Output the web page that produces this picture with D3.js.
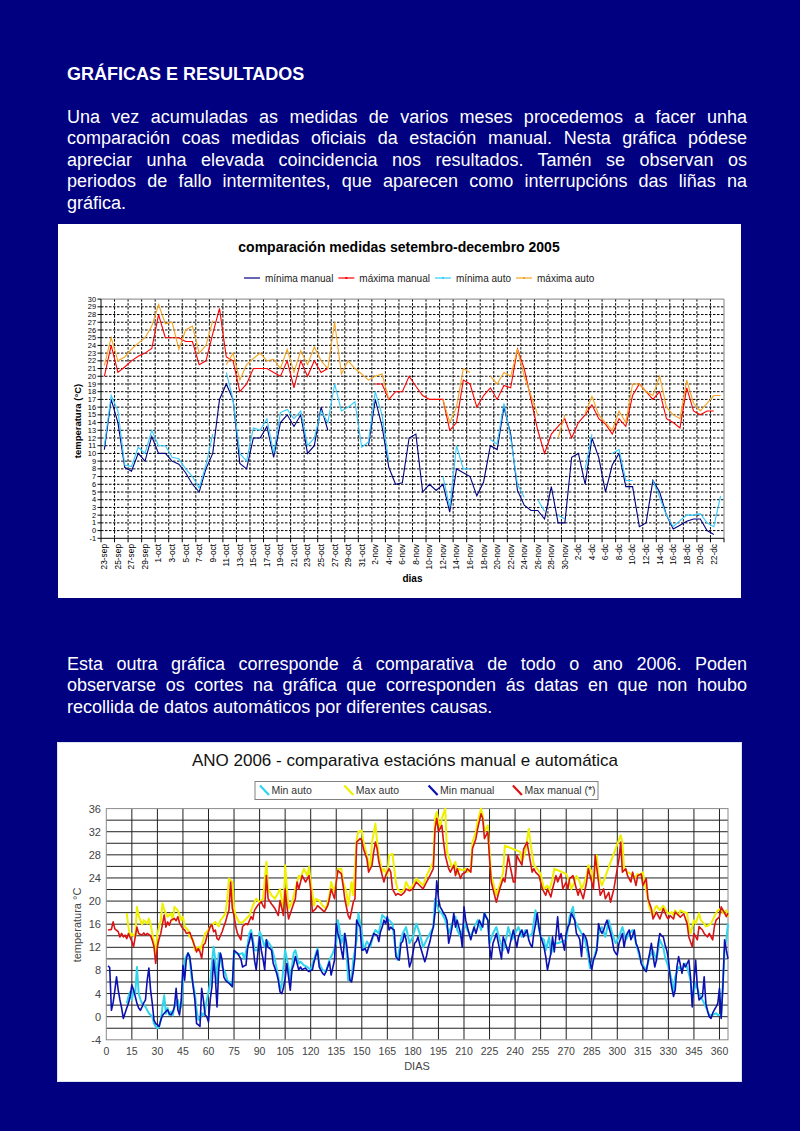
<!DOCTYPE html>
<html>
<head>
<meta charset="utf-8">
<script src="https://cdnjs.cloudflare.com/ajax/libs/d3/7.8.5/d3.min.js"></script>
<style>
  html, body { margin: 0; padding: 0; background: #000080; }
  body { width: 800px; height: 1131px; position: relative; overflow: hidden;
         font-family: "Liberation Sans", Arial, Helvetica, sans-serif; }
  #page { position: absolute; left: 0; top: 0; }
  .line { position: absolute; left: 67px; width: 680px; color: #fff; font-size: 18px;
          line-height: 18px; text-align: justify; text-align-last: justify; white-space: nowrap; }
  .line.last { text-align-last: left; }
  .head { position: absolute; left: 67px; color: #fff; font-size: 18px; line-height: 18px;
          font-weight: bold; white-space: nowrap; }
</style>
</head>
<body>
<svg id="page" width="800" height="1131"></svg>
<script>
// ---- texto da paxina ----
var heading = 'GRÁFICAS E RESULTADOS';
var para1 = [
  'Una vez acumuladas as medidas de varios meses procedemos a facer unha',
  'comparación coas medidas oficiais da estación manual. Nesta gráfica pódese',
  'apreciar unha elevada coincidencia nos resultados. Tamén se observan os',
  'periodos de fallo intermitentes, que aparecen como interrupcións das liñas na',
  'gráfica.'
];
var para2 = [
  'Esta outra gráfica corresponde á comparativa de todo o ano 2006. Poden',
  'observarse os cortes na gráfica que corresponden ás datas en que non houbo',
  'recollida de datos automáticos por diferentes causas.'
];

// ---- grafica 1: setembro-decembro 2005 ----
var dias2005 = [
  '23-sep','24-sep','25-sep','26-sep','27-sep','28-sep','29-sep','30-sep',
  '1-oct','2-oct','3-oct','4-oct','5-oct','6-oct','7-oct','8-oct','9-oct','10-oct',
  '11-oct','12-oct','13-oct','14-oct','15-oct','16-oct','17-oct','18-oct','19-oct','20-oct',
  '21-oct','22-oct','23-oct','24-oct','25-oct','26-oct','27-oct','28-oct','29-oct','30-oct','31-oct',
  '1-nov','2-nov','3-nov','4-nov','5-nov','6-nov','7-nov','8-nov','9-nov','10-nov',
  '11-nov','12-nov','13-nov','14-nov','15-nov','16-nov','17-nov','18-nov','19-nov','20-nov',
  '21-nov','22-nov','23-nov','24-nov','25-nov','26-nov','27-nov','28-nov','29-nov','30-nov',
  '1-dc','2-dc','3-dc','4-dc','5-dc','6-dc','7-dc','8-dc','9-dc','10-dc',
  '11-dc','12-dc','13-dc','14-dc','15-dc','16-dc','17-dc','18-dc','19-dc','20-dc',
  '21-dc','22-dc','23-dc'
];
var minManual2005 = [10.5,17,14,8.2,7.7,10,9,12.2,10,10, 9,8.6,7.5,6,5,8,10,17,19,17,
  8.7,8,12,12,13.5,9.5,14,15,13.5,15, 10,11,16,13,null,null,null,null,null,11,
  17,13.5,8.2,6,6.2,12,12.5,5,6,5.2, 6,2.4,8,7.5,7,4.5,6.3,11,10.5,16,
  12.5,5.2,3.3,2.6,2.6,1.5,5.7,1,1,9.5, 10,6,12,9.5,5,8.5,10,5.7,5.7,0.5,
  1,6.5,5,2,0.2,0.7,1.2,1.5,1.5,0, -0.5,null];
var maxManual2005 = [20,24,20.5,21.2,22,22.6,23,23.6,28,25, 25,25,24.5,24.5,21.5,22,25.5,28.8,22.5,22,
  18,19,21,21,21,20.5,20,22,18.5,22, 20,22,20.5,21,null,null,null,null,null,null,
  19,19,17,18,18,20,18.7,17.5,17,17, 17,13,14,19.5,19,16,17.5,18.5,17,18.8,
  18.5,23.5,21,17,13,10,12.5,13.5,14.5,12, 14,15,16.3,14.5,13.8,12.5,14.5,13.5,17.5,19,
  18,17,18,14.5,14,13.3,18.5,15.5,15,15.5, 15.5,null];
var minAuto2005 = [11,17.5,15.5,8.5,8.3,10.8,10,13,11,11, 9.5,9.3,8,7,5.5,8.5,12.5,null,20.5,17,
  10,9,13.3,13,14.5,10,15.3,15.7,14.5,15.5, 11,12,15.5,14,19,15.5,16,16.7,10.8,11.5,
  18,15,9,null,null,null,null,null,null,null, 7,3,11,8,8,null,null,11.8,11.2,16.5,
  12,6,4.3,null,4,2.5,null,2,1.5,null, null,8,12.5,null,null,10,10.5,6.5,6.5,null,
  null,6.5,4.3,2,0.5,1.3,2,2,2.2,1, 0.5,4.5];
var maxAuto2005 = [21.4,25,22,22.5,23.5,24.3,25,26.5,29.3,26.8, 27,23.5,26,26.5,23,24,27.2,null,21.5,23,
  19.5,21.5,22.3,23,22,22.2,21,23.5,20.5,23.3, 21.5,23.8,22,21,27,20.3,22,21,20.3,19.5,
  20,20.3,17,null,null,null,null,null,null,null, 17,14,16,21,20.5,null,null,20,19,20.5,
  20,23.5,20,17.5,15,null,null,12,15,null, null,15.2,17.4,15,14,13,15.5,14,19,19,
  18,17.5,20,16,15,14.5,19.5,16.5,15.5,16.5, 17.5,17.5];
var yTicks2005 = d3.range(-1, 31);
var legend2005 = ['mínima manual', 'máxima manual', 'mínima auto', 'máxima auto'];

// ---- grafica 2: ano 2006 (dia, temperatura) ----
var minManual06 = [[1,8.8],[2,8.5],[3,1.1],[4,2.4],[5,4.5],[6,6.9],[7,4.6],[8,2.9],[9,1.5],[10,-0.3],[11,0.6],[12,1.5],[13,2.3],[14,3.5],[15,5.5],[16,4.6],[17,3.5],[18,2.3],[19,1.5],[20,1.1],[21,1.7],[22,2.4],[23,2.9],[24,6.3],[25,8.4],[26,4.6],[27,2.3],[28,-0.6],[29,-1.2],[30,-1.4],[31,-1.7],[32,-0.6],[33,0.2],[34,0.6],[35,0.9],[36,1.2],[37,0.5],[38,0.3],[39,0.8],[40,1.7],[41,4.9],[42,1.2],[43,0.3],[44,2.9],[45,8.9],[46,6.3],[47,10],[48,11],[49,10.4],[50,8],[51,5.2],[52,2.9],[53,-1.2],[54,-1.4],[55,-1.7],[56,4.9],[57,2.9],[58,0.3],[59,0],[60,-0.9],[61,2.9],[62,5.2],[63,9.8],[64,6.9],[65,1.7],[66,8.1],[67,11],[68,9.8],[69,6.9],[70,6.3],[71,6],[72,5.8],[73,5.5],[74,5.2],[75,11.5],[76,11.2],[77,11],[78,10.5],[79,10],[80,8.6],[81,8.8],[82,8.9],[83,12],[84,13],[85,14.4],[86,12.7],[87,9.8],[88,8.1],[89,11],[90,13.8],[91,11.5],[92,10],[93,8.1],[94,13.3],[95,12],[96,11.8],[97,11.5],[98,9.2],[99,8.4],[100,7.5],[101,6.3],[102,4.3],[103,4],[104,5],[105,6.6],[106,9.2],[107,6.9],[108,4.6],[109,8.1],[110,9],[111,10.4],[112,9.2],[113,8.1],[114,8.6],[115,8.1],[116,8.3],[117,8.4],[118,8],[119,7.8],[120,8],[121,8.1],[122,9.5],[123,10.5],[124,11.5],[125,8.6],[126,8],[127,7.5],[128,7.2],[129,7.8],[130,8.6],[131,9.5],[132,7.2],[133,8.5],[134,9.8],[135,16.1],[136,14.4],[137,13.3],[138,11.5],[139,10],[140,14.4],[141,12.7],[142,9.8],[143,6.3],[144,6],[145,7.8],[146,10.4],[147,16.7],[148,16],[149,15.5],[150,11.5],[151,11.6],[152,11.8],[153,11],[154,12],[155,12.7],[156,13.5],[157,14.4],[158,14.2],[159,14.1],[160,13],[161,14.7],[162,15.5],[163,16.7],[164,16.1],[165,17.3],[166,15],[167,15.5],[168,15.2],[169,15],[170,10.4],[171,10],[172,9.8],[173,12.7],[174,13],[175,14.4],[176,13.3],[177,11],[178,8.6],[179,9.5],[180,11],[181,12.7],[182,13],[183,13.8],[184,12.5],[185,11.5],[186,10.5],[187,9.5],[188,10.5],[189,12],[190,13],[191,14.4],[192,15.5],[193,18],[194,23.5],[195,20.5],[196,19],[197,18.5],[198,17.9],[199,17.5],[200,16.7],[201,12.7],[202,14],[203,15.5],[204,17.9],[205,15.5],[206,16.7],[207,15.5],[208,14.4],[209,12],[210,19],[211,16.7],[212,15.5],[213,14.4],[214,13.3],[215,14.5],[216,15.5],[217,14.4],[218,15.5],[219,16.7],[220,16],[221,15.5],[222,17.9],[223,17.2],[224,16.7],[225,12],[226,10],[227,12.7],[228,13.5],[229,14.4],[230,13],[231,11.5],[232,10],[233,13.8],[234,13],[235,12],[236,11],[237,12.5],[238,13.8],[239,15],[240,13.5],[241,12],[242,13.8],[243,14.5],[244,15],[245,13.8],[246,14.5],[247,15],[248,13.3],[249,12.5],[250,12],[251,14.4],[252,16],[253,17.9],[254,15.5],[255,13.8],[256,13],[257,12],[258,10.4],[259,8.1],[260,9.5],[261,11],[262,13.8],[263,11.2],[264,14],[265,17.3],[266,13.3],[267,14.4],[268,13],[269,11.5],[270,14.4],[271,15.5],[272,16.1],[273,17.9],[274,17.3],[275,16.7],[276,14.4],[277,14],[278,13.3],[279,10.4],[280,14.4],[281,14],[282,13.3],[283,11.5],[284,9.5],[285,8.1],[286,9.8],[287,10.5],[288,11.5],[289,16.1],[290,15],[291,14.4],[292,15],[293,16],[294,16.7],[295,15.5],[296,14.5],[297,13.3],[298,11.5],[299,11],[300,10.7],[301,12.7],[302,13.5],[303,14.4],[304,12],[305,13.8],[306,14.5],[307,15],[308,13.3],[309,14],[310,15],[311,12.7],[312,12],[313,11],[314,9.2],[315,8.6],[316,8.1],[317,7.8],[318,9.5],[319,11],[320,12.7],[321,10.5],[322,8.6],[323,9.8],[324,12.7],[325,14.4],[326,14],[327,13.8],[328,12.5],[329,11.5],[330,10],[331,6.9],[332,5],[333,3.5],[334,4.6],[335,8.6],[336,10.4],[337,9],[338,7.5],[339,9.2],[340,8.6],[341,9.2],[342,9.8],[343,6.9],[344,1.7],[345,6],[346,9.8],[347,5.2],[348,2.9],[349,3.2],[350,3.5],[351,6.9],[352,2.3],[353,1],[354,0],[355,-0.3],[356,0.6],[357,1.2],[358,1.7],[359,2.3],[360,4.9],[361,-0.3],[362,5.2],[363,13.3],[364,11.5],[365,10]];
var minAuto06 = [[12,2.3],[13,3.5],[14,4.3],[15,2.9],[16,4.6],[17,4],[18,8.6],[19,4],[20,3],[21,2.3],[23,1.7],[25,0.6],[27,0],[28,-1.2],[29,-1.7],[30,-2],[31,-1.7],[32,-0.6],[33,1.7],[34,3.7],[35,0.5],[36,1.5],[37,0.3],[38,0.9],[39,0.2],[40,1.7],[42,2.9],[43,1.2],[44,1.8],[45,6],[46,9.8],[47,10.5],[48,11],[49,10],[50,6.9],[52,4],[53,1.2],[54,-0.5],[55,-0.6],[56,0.6],[57,0.2],[58,1],[59,2.9],[61,5.8],[62,9.2],[63,12.1],[64,9.8],[65,5.8],[66,11],[67,10.8],[68,8.6],[70,7.5],[71,6.3],[73,5.8],[74,5.2],[75,11.5],[76,11],[78,10.8],[80,11],[81,10],[83,12.5],[84,14.4],[85,15],[86,13.5],[87,11.5],[89,11.5],[90,14.7],[91,14],[93,12],[94,13.3],[96,12.5],[97,12],[99,9.8],[101,6.9],[102,4.6],[103,5.5],[105,11.5],[107,8.6],[108,6.3],[110,11],[111,11.5],[113,9.2],[114,9.5],[116,8.9],[118,8.6],[120,8.1],[122,10],[124,11.8],[125,9.2],[127,8.1],[129,7.8],[131,9.8],[133,11],[135,12.7],[136,16.7],[137,15],[138,12.7],[140,14.4],[141,11.5],[142,6.3],[144,6.6],[145,9.8],[147,13.3],[148,17.9],[150,14.4],[151,11.5],[153,13],[155,12.1],[157,14.4],[158,15],[160,14.4],[162,17.6],[164,17],[166,16.7],[168,16.1],[170,11],[171,9.8],[173,13.3],[174,14.4],[176,15.5],[178,12.7],[180,13.8],[182,16.1],[184,14.4],[186,12],[188,13.3],[190,14.4],[192,15.5],[193,20.4],[195,18.4],[197,17.9],[199,16.7],[201,14.4],[203,16.1],[205,17.3],[206,15],[208,13.8],[210,16.1],[212,15],[214,13.8],[216,15.5],[218,16.7],[220,15],[222,17.9],[224,16.7],[225,12.7],[227,14.4],[229,15.5],[231,13.3],[233,11.5],[235,13.8],[236,15.5],[238,13.3],[240,14.4],[242,15.5],[244,13.8],[246,15],[248,13.8],[250,14.4],[252,18.4],[253,16.7],[255,13.8],[257,13.3],[258,11.5],[260,13.8],[261,10.8],[263,12.7],[265,12.7],[270,13.3],[272,17.3],[274,19],[275,16.7],[277,15.5],[279,14.4],[281,13.3],[283,10.4],[284,8.4],[286,9.8],[288,12],[289,14.4],[291,15.5],[293,13.8],[295,16.7],[297,14.4],[299,12.7],[301,13.8],[303,15.5],[305,13.3],[307,14.4],[309,15],[311,12.7],[313,10.4],[315,8.9],[317,8.1],[319,10.4],[321,11.5],[323,9.8],[325,13.3],[327,12],[328,10.4],[330,8.6],[332,6.3],[333,4],[334,6.9],[336,8.6],[338,8.1],[340,9.2],[341,8.6],[343,6.3],[344,2.9],[346,5.8],[348,4],[350,2.9],[352,1.7],[354,0.3],[356,0.3],[358,0.6],[359,0.3],[361,0.3],[363,11.5],[364,13.3],[365,16.1]];
var maxManual06 = [[1,15],[3,15.1],[4,16.4],[5,15.2],[7,14.7],[8,13.8],[9,14.4],[10,13.8],[11,14.1],[12,13.5],[13,14.4],[15,13],[16,12.1],[17,13.8],[18,15.5],[19,14.4],[21,14.1],[22,14.5],[23,14.1],[24,14.4],[26,14],[27,13.2],[28,12.1],[29,9.2],[30,12.1],[31,13.5],[32,14.4],[34,17.6],[35,15.5],[36,16.4],[37,15.8],[38,16.7],[40,17],[41,16.6],[42,17.3],[43,16.2],[45,15.2],[46,15],[47,14.4],[49,14.6],[50,13.8],[52,12.1],[53,11.2],[54,11.8],[55,11.2],[56,10.1],[57,12.4],[58,12.7],[59,13.8],[61,15.6],[62,15.9],[63,14.7],[64,15],[65,13.5],[66,13.3],[68,14.7],[69,15.6],[70,16.4],[71,17.5],[72,18.4],[73,23.3],[74,18.7],[75,17.5],[76,15.6],[77,14.4],[79,13.3],[80,15.6],[82,16.1],[83,15.9],[85,17.3],[86,16.8],[87,18.4],[89,19.3],[91,19.9],[92,19.2],[93,18.8],[94,24.4],[95,20.4],[97,19.5],[99,18.7],[101,17.5],[102,20.1],[104,17.5],[105,22.1],[106,19.2],[107,16.9],[109,18.7],[111,20.4],[112,23.3],[113,22.1],[115,24.4],[117,23.3],[119,24.4],[120,22],[121,18.1],[123,18.7],[124,19.2],[126,18.7],[128,18.1],[130,19.2],[131,20.4],[132,22.1],[134,20.4],[135,23.3],[136,25.3],[138,24.7],[139,22.7],[140,20.4],[142,17.5],[143,16.9],[145,19.8],[146,20.4],[147,30.2],[149,30.8],[150,30.5],[151,29],[153,27.3],[154,25],[156,26.2],[157,28.5],[158,30.2],[159,29],[160,26.8],[162,24.4],[163,23.3],[164,24.4],[166,25.6],[167,25],[168,22.1],[170,21],[171,21.3],[173,21],[175,21.5],[176,22.1],[178,21.8],[180,22.1],[182,23.3],[184,22.7],[186,22.1],[188,23.3],[190,24.4],[192,25.6],[193,32.5],[194,34.3],[195,32],[197,33.1],[198,30.2],[199,27.9],[201,25.6],[202,25],[204,26.2],[205,24.4],[206,25.6],[208,23.9],[209,24.7],[211,25],[212,25.6],[214,25],[215,29.1],[217,30.8],[218,32.5],[220,35.1],[221,34.3],[222,30.8],[224,32],[225,27.3],[226,23.3],[227,22.1],[229,19.8],[230,21],[231,22.1],[233,23.9],[234,23.3],[236,27.9],[237,26.2],[239,23.3],[240,23.3],[241,27.9],[242,27.3],[244,26.2],[245,29],[247,30.2],[248,28.5],[250,25],[251,25.6],[252,25],[254,24.4],[256,22.1],[258,21],[259,22.1],[261,20.7],[262,22.1],[264,24.4],[265,23.3],[267,24.7],[268,22.1],[270,23.3],[271,22.1],[272,23.9],[274,24.4],[276,22.1],[277,21],[278,22.1],[280,20.4],[282,23.3],[283,25.6],[284,24.4],[286,22.1],[287,27.9],[289,23.3],[290,21],[292,22.1],[293,20.4],[295,21.5],[296,19.8],[298,22.1],[299,23.9],[301,27.3],[302,30.2],[303,25],[305,25.6],[306,24.4],[308,23.3],[309,25],[311,22.7],[312,24.4],[314,24.7],[315,22.7],[317,23.9],[318,20.4],[320,18.7],[321,16.9],[323,18.1],[324,17.5],[325,16.9],[327,18.7],[329,17.3],[330,16.9],[331,17.5],[333,16.9],[334,18.1],[336,17.5],[337,17.2],[339,17.8],[341,16.1],[342,13.8],[344,12.1],[345,14.4],[347,13.3],[348,15.6],[350,15],[351,14.4],[353,13.8],[354,14.4],[356,13.3],[357,15.6],[358,16.7],[360,17.3],[361,19],[363,17.9],[364,17.3],[365,17.9]];
var maxAuto06 = [[12,17.9],[13,15.5],[14,13.8],[15,14.4],[17,13.8],[18,19],[19,17.5],[20,16.7],[21,15.9],[22,16.7],[24,16.1],[25,17],[26,16],[27,14.4],[28,12.7],[29,11],[30,14.4],[32,16.7],[33,19.6],[34,18.5],[35,17.9],[36,17.3],[38,17.9],[39,16.7],[40,19],[42,18.4],[44,16.7],[45,17.3],[46,15.6],[48,15],[49,13.8],[51,13.3],[52,11.5],[54,12.1],[55,11.5],[57,13.3],[58,14.4],[60,15],[61,15.6],[63,16.1],[64,16.4],[66,15.6],[67,16.7],[68,17],[70,17.9],[71,20.2],[72,23.9],[74,23.3],[75,18.7],[76,17.5],[78,16.3],[80,16.3],[82,16.9],[84,17.5],[86,19.2],[88,20.4],[90,19.8],[92,20.4],[94,26.8],[95,22.1],[97,21],[99,20.4],[101,21.5],[102,22.1],[104,18.1],[105,26.2],[107,18.7],[109,19.8],[111,22.1],[113,24.4],[114,23.9],[116,25.6],[118,24.4],[119,25.9],[120,23.3],[122,19.2],[123,20.4],[125,20.1],[127,19.2],[129,18.7],[131,21],[132,23.3],[134,21.5],[136,25.6],[138,25.6],[139,23.3],[141,21.5],[142,19.2],[144,23.3],[145,21],[147,30.8],[148,32],[150,32.2],[151,30.2],[153,27.9],[155,25.6],[156,30.2],[158,33.4],[159,30.2],[160,27.9],[162,25],[163,25.6],[165,24.4],[166,27.9],[168,28.2],[170,23.3],[171,22.1],[173,21.5],[175,22.1],[176,23.3],[178,22.1],[180,22.7],[182,23.9],[184,23.3],[186,22.7],[188,24.4],[190,25.6],[192,26.8],[193,34.3],[194,35.4],[196,32.5],[197,34.3],[199,36],[200,28.5],[202,26.8],[203,25.6],[205,26.8],[206,24.7],[207,25.6],[209,25.3],[211,25.6],[212,25],[214,25.6],[215,30.2],[217,32],[218,33.7],[220,36],[221,34.8],[222,32],[224,33.1],[225,28.5],[226,24.4],[227,23.3],[229,21],[230,22.1],[231,22.7],[233,25],[234,29.6],[243,28.5],[244,26.8],[246,28.5],[248,32.5],[249,30.2],[251,26.2],[253,25.6],[255,24.7],[256,23.3],[257,22.1],[259,22.7],[260,21.8],[262,23.9],[263,25.6],[270,24.7],[272,23.3],[273,22.1],[275,23.3],[276,24.4],[278,23.3],[279,22.1],[280,22.7],[282,24.4],[283,26.2],[285,25],[286,23.3],[288,27.9],[289,24.4],[291,22.7],[302,31.4],[303,30.2],[304,25.6],[306,25],[307,24.9],[309,24.4],[310,23.9],[312,24.7],[313,24.4],[315,25],[316,23.3],[318,20.4],[319,18.7],[321,17.5],[322,18.7],[323,19.2],[325,18.4],[327,19.2],[328,18.7],[330,17.8],[332,18.1],[333,17.5],[334,18.4],[336,17.5],[337,18.4],[339,18.1],[341,17.9],[342,15.6],[343,14.4],[345,16.7],[346,16.1],[348,17.9],[349,16.7],[351,16.1],[352,15.6],[354,15.9],[355,16.1],[356,16.7],[358,17.9],[359,18.4],[361,18.7],[362,17.9],[364,18.4],[365,17.3]];
var xTicks06 = d3.range(0, 361, 15);
var yTicks06 = [-4, 0, 4, 8, 12, 16, 20, 24, 28, 32, 36];
var legend06 = ['Min auto', 'Max auto', 'Min manual', 'Max manual (*)'];

var FONT = '"Liberation Sans", Arial, Helvetica, sans-serif';
var svg = d3.select('#page');

// ---------- textos ----------
d3.select('body').append('div').attr('class', 'head')
  .style('top', (80 - 15.2) + 'px').text(heading);

function drawPara(lines, base) {
  lines.forEach(function(t, k) {
    d3.select('body').append('div')
      .attr('class', k === lines.length - 1 ? 'line last' : 'line')
      .style('top', (base + k * 21.5 - 15.2) + 'px')
      .text(t);
  });
}
drawPara(para1, 123);
drawPara(para2, 670);

// ---------- grafica 1 ----------
var g1 = svg.append('g').attr('font-family', FONT);
g1.append('rect').attr('x', 58).attr('y', 224).attr('width', 683).attr('height', 374).attr('fill', '#fff');

var x1 = d3.scaleBand().domain(d3.range(dias2005.length)).range([101, 724]);
var y1 = d3.scaleLinear().domain([-1, 30]).range([538.3, 299.1]);
var cx1 = function(i) { return x1(i) + x1.bandwidth() / 2; };

// reixa
g1.selectAll('.hg').data(yTicks2005.filter(function(v) { return v > -1 && v < 30; }))
  .join('line')
  .attr('x1', 101).attr('x2', 724)
  .attr('y1', function(d) { return y1(d); }).attr('y2', function(d) { return y1(d); })
  .attr('stroke', '#000').attr('stroke-dasharray', '2.5,1.5');
var vIdx = d3.range(2, dias2005.length, 2);
g1.selectAll('.vg').data(vIdx)
  .join('line')
  .attr('x1', function(d) { return x1(d); }).attr('x2', function(d) { return x1(d); })
  .attr('y1', y1(30)).attr('y2', y1(-1))
  .attr('stroke', '#000').attr('stroke-dasharray', '2.5,1.5');

// bordo e eixos
g1.append('path').attr('d', 'M101,' + y1(30) + 'H724V' + y1(-1))
  .attr('fill', 'none').attr('stroke', '#808080');
g1.append('line').attr('x1', 101).attr('x2', 101).attr('y1', y1(30)).attr('y2', y1(-1)).attr('stroke', '#000');
g1.append('line').attr('x1', 101).attr('x2', 724).attr('y1', y1(-1)).attr('y2', y1(-1)).attr('stroke', '#000');
g1.selectAll('.yt').data(yTicks2005).join('line')
  .attr('x1', 97.5).attr('x2', 101)
  .attr('y1', function(d) { return y1(d); }).attr('y2', function(d) { return y1(d); })
  .attr('stroke', '#000');
g1.selectAll('.xt').data(d3.range(0, dias2005.length + 1, 2)).join('line')
  .attr('x1', function(d) { return d < dias2005.length ? x1(d) : 724; })
  .attr('x2', function(d) { return d < dias2005.length ? x1(d) : 724; })
  .attr('y1', y1(-1)).attr('y2', y1(-1) + 4)
  .attr('stroke', '#000');

g1.selectAll('.yl').data(yTicks2005).join('text')
  .attr('x', 96).attr('y', function(d) { return y1(d); }).attr('dy', '0.35em')
  .attr('text-anchor', 'end').attr('font-size', 7.4).attr('fill', '#000')
  .text(function(d) { return d; });

g1.selectAll('.xl').data(d3.range(0, dias2005.length, 2)).join('text')
  .attr('transform', function(d) { return 'translate(' + cx1(d) + ',544) rotate(-90)'; })
  .attr('dy', '0.35em').attr('text-anchor', 'end').attr('font-size', 8.3).attr('fill', '#000')
  .text(function(d) { return dias2005[d]; });

g1.append('text').attr('x', 399).attr('y', 252).attr('text-anchor', 'middle')
  .attr('font-size', 14).attr('font-weight', 'bold').text('comparación medidas setembro-decembro 2005');
g1.append('text').attr('x', 412.5).attr('y', 582).attr('text-anchor', 'middle')
  .attr('font-size', 10).attr('font-weight', 'bold').text('dias');
g1.append('text').attr('transform', 'translate(81,421) rotate(-90)').attr('text-anchor', 'middle')
  .attr('font-size', 9.5).attr('font-weight', 'bold').text('temperatura (°C)');

// series
var cores2005 = ['#000080', '#ff0000', '#33ccff', '#f5a623'];
var series2005 = [minManual2005, maxManual2005, minAuto2005, maxAuto2005];
var line1 = d3.line()
  .defined(function(d) { return d != null; })
  .x(function(d, i) { return cx1(i); })
  .y(function(d) { return y1(d); });
series2005.forEach(function(s, k) {
  g1.append('path').datum(s).attr('d', line1)
    .attr('fill', 'none').attr('stroke', cores2005[k]).attr('stroke-width', 1.1);
});

// lenda
var lx = 244;
legend2005.forEach(function(name, k) {
  g1.append('line').attr('x1', lx).attr('x2', lx + 16).attr('y1', 278).attr('y2', 278)
    .attr('stroke', cores2005[k]).attr('stroke-width', 1.2);
  if (k > 0) {
    g1.append('rect').attr('x', lx + 7).attr('y', 277).attr('width', 2).attr('height', 2).attr('fill', cores2005[k]);
  }
  var t = g1.append('text').attr('x', lx + 21).attr('y', 281.5).attr('font-size', 10)
    .attr('fill', '#222').text(name);
  lx += 21 + t.node().getComputedTextLength() + 5;
});

// ---------- grafica 2 ----------
var g2 = svg.append('g').attr('font-family', FONT);
g2.append('rect').attr('x', 57.5).attr('y', 742.5).attr('width', 684).attr('height', 339)
  .attr('fill', '#fff').attr('stroke', '#d8e4f0');

var x2 = d3.scaleLinear().domain([0, 365]).range([106.3, 728]);
var y2 = d3.scaleLinear().domain([-4, 36]).range([1039.8, 808.6]);

g2.selectAll('.hg').data(d3.range(-2, 36, 2)).join('line')
  .attr('x1', x2(0)).attr('x2', x2(365))
  .attr('y1', function(d) { return y2(d); }).attr('y2', function(d) { return y2(d); })
  .attr('stroke', '#222').attr('stroke-width', 1);
g2.selectAll('.vg').data(xTicks06.filter(function(d) { return d > 0; })).join('line')
  .attr('x1', function(d) { return x2(d); }).attr('x2', function(d) { return x2(d); })
  .attr('y1', y2(36)).attr('y2', y2(-4))
  .attr('stroke', '#222').attr('stroke-width', 1);
g2.append('rect').attr('x', x2(0)).attr('y', y2(36)).attr('width', x2(365) - x2(0)).attr('height', y2(-4) - y2(36))
  .attr('fill', 'none').attr('stroke', '#8a8a8a');

g2.selectAll('.yl').data(yTicks06).join('text')
  .attr('x', 101).attr('y', function(d) { return y2(d); }).attr('dy', '0.36em')
  .attr('text-anchor', 'end').attr('font-size', 11).attr('fill', '#444')
  .text(function(d) { return d; });
g2.selectAll('.xl').data(xTicks06).join('text')
  .attr('x', function(d) { return x2(d); }).attr('y', 1055)
  .attr('text-anchor', 'middle').attr('font-size', 10.5).attr('fill', '#444')
  .text(function(d) { return d; });

g2.append('text').attr('x', 405).attr('y', 766).attr('text-anchor', 'middle')
  .attr('font-size', 17).attr('fill', '#111').text('ANO 2006 - comparativa estacións manual e automática');
g2.append('text').attr('x', 417).attr('y', 1070).attr('text-anchor', 'middle')
  .attr('font-size', 11).attr('fill', '#444').text('DIAS');
g2.append('text').attr('transform', 'translate(81,925) rotate(-90)').attr('text-anchor', 'middle')
  .attr('font-size', 11).attr('fill', '#444').text('temperatura °C');

var cores06 = ['#30d4ec', '#eef000', '#0c10b0', '#d81414'];
var anchos06 = [2, 2, 1.6, 1.6];
var series06 = [minAuto06, maxAuto06, minManual06, maxManual06];
var line2 = d3.line()
  .x(function(d) { return x2(d[0]); })
  .y(function(d) { return y2(d[1]); });
series06.forEach(function(s, k) {
  g2.append('path').datum(s).attr('d', line2)
    .attr('fill', 'none').attr('stroke', cores06[k]).attr('stroke-width', anchos06[k])
    .attr('stroke-linejoin', 'round');
});

// lenda
g2.append('rect').attr('x', 255).attr('y', 781.5).attr('width', 343).attr('height', 18)
  .attr('fill', '#fff').attr('stroke', '#808080');
legend06.forEach(function(name, k) {
  var ix = 260 + k * 84.3;
  g2.append('line').attr('x1', ix).attr('y1', 785.5).attr('x2', ix + 9).attr('y2', 795)
    .attr('stroke', cores06[k]).attr('stroke-width', 2.2);
  g2.append('text').attr('x', ix + 11.5).attr('y', 794).attr('font-size', 10.5).attr('fill', '#333').text(name);
});
</script>
</body>
</html>
